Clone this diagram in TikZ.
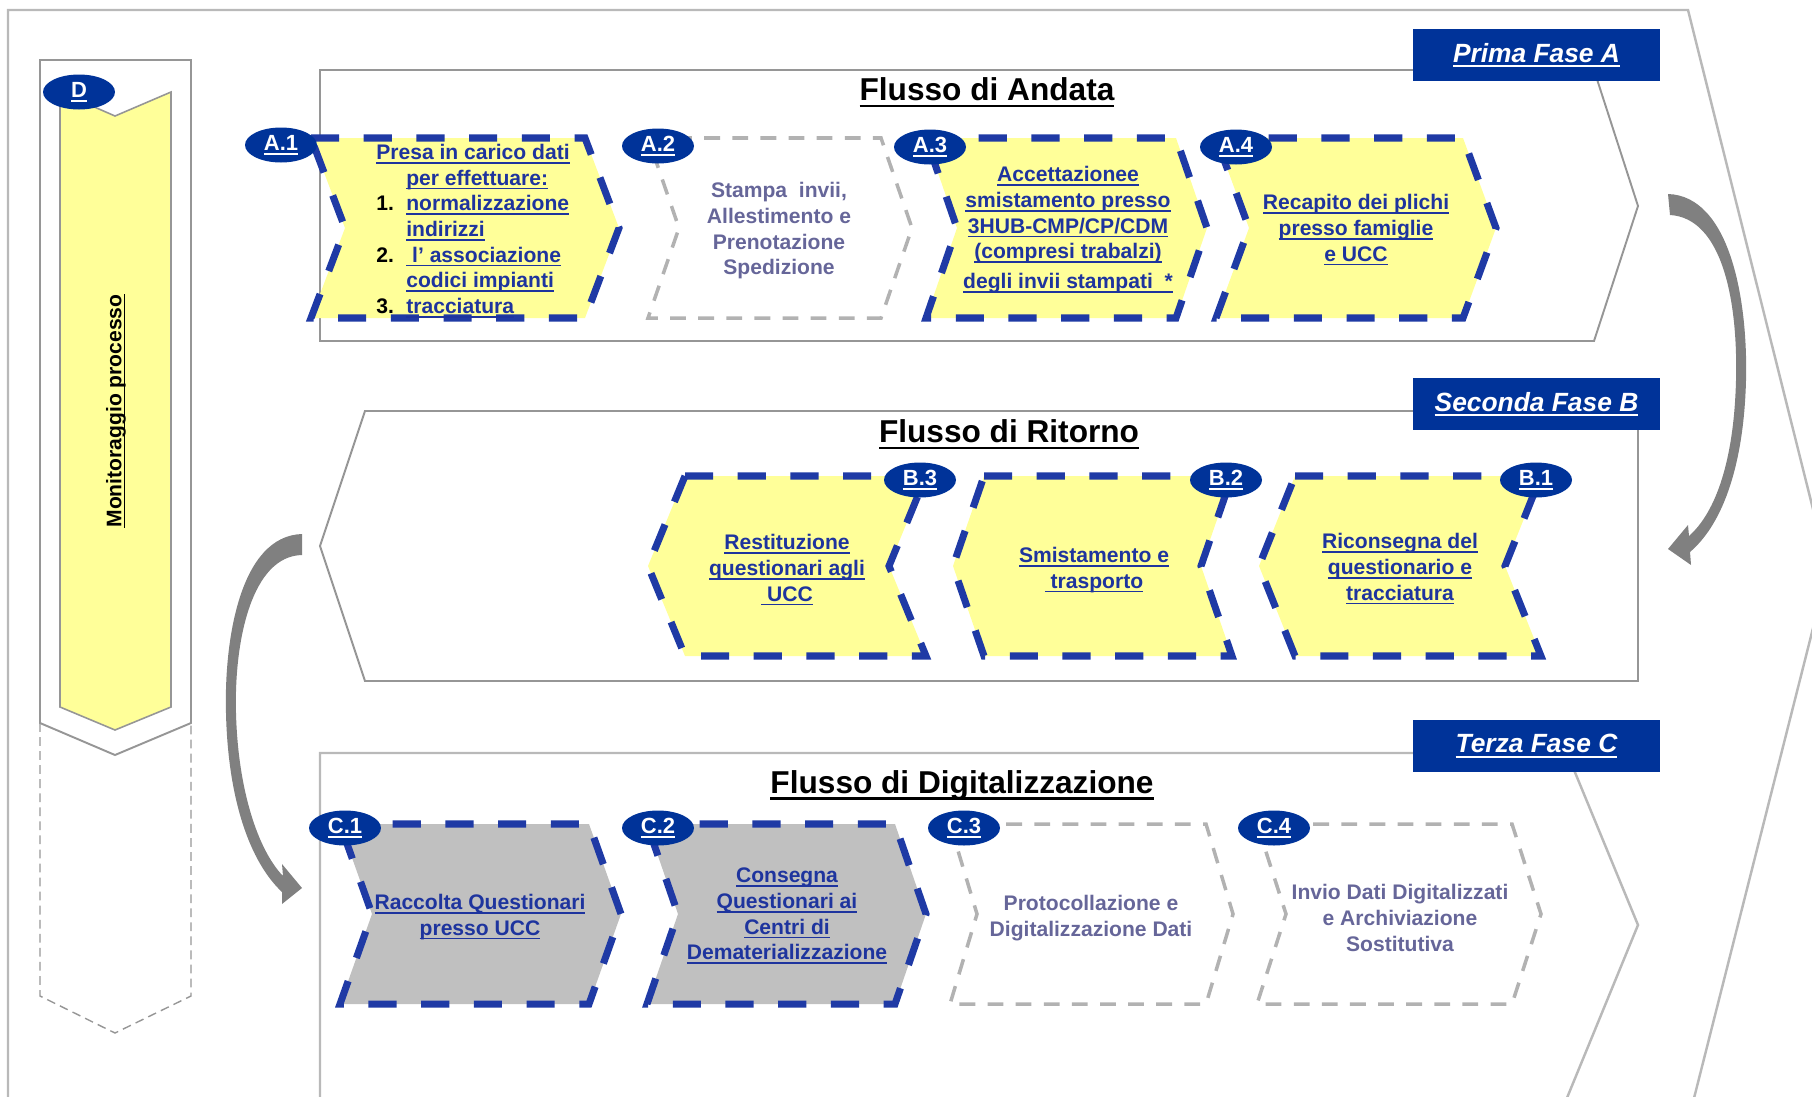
\documentclass[tikz,border=0pt]{standalone}
\usepackage{fontspec}
\setmainfont{Liberation Sans}
\usetikzlibrary{shapes.geometric}
\definecolor{phaseblue}{RGB}{0,51,153}
\definecolor{dashblue}{RGB}{31,58,165}
\definecolor{linkblue}{RGB}{30,52,158}
\definecolor{paleyellow}{RGB}{255,255,153}
\definecolor{boxgray}{RGB}{192,192,192}
\definecolor{dashgray}{RGB}{178,178,178}
\definecolor{mutedtext}{RGB}{102,102,153}
\definecolor{framegray}{RGB}{150,150,150}
\definecolor{lightframe}{RGB}{185,185,185}
\definecolor{arrowgray}{RGB}{128,128,128}
\newsavebox{\undlbox}
\newcommand{\undl}[1]{\sbox{\undlbox}{#1}\rlap{\rule[-0.19em]{\wd\undlbox}{0.075em}}\usebox{\undlbox}}
\newcommand{\chevright}[5]{\draw[#1] (#2,#4) -- (#3,#4) -- (#3+#5,#4+90) -- (#3,#4+180) -- (#2,#4+180) -- (#2+#5,#4+90) -- cycle;}
\newcommand{\chevleft}[5]{\draw[#1] (#2,#4) -- (#3,#4) -- (#3-#5,#4+90) -- (#3,#4+180) -- (#2,#4+180) -- (#2-#5,#4+90) -- cycle;}
\begin{document}
\begin{tikzpicture}[x=0.02cm,y=-0.02cm,
  frame/.style={draw=framegray,line width=1.1pt},
  outline/.style={draw=lightframe,line width=1.4pt},
  stepyellow/.style={fill=paleyellow,draw=dashblue,line width=4pt,dash pattern=on 16pt off 14pt},
  stepgray/.style={fill=boxgray,draw=dashblue,line width=4pt,dash pattern=on 16pt off 14pt},
  stepopen/.style={draw=dashgray,line width=2pt,dash pattern=on 9pt off 7pt},
  tag/.style={ellipse,fill=phaseblue,minimum width=1.44cm,minimum height=0.7cm,inner sep=0pt,text=white,font=\fontsize{12.5}{14}\selectfont\bfseries},
  fase/.style={fill=phaseblue,minimum width=4.94cm,minimum height=1.04cm,inner sep=0pt,text=white,font=\fontsize{15}{18}\selectfont\bfseries\itshape},
  title/.style={inner sep=0pt,yshift=-0.05cm,font=\fontsize{18}{22}\selectfont\bfseries},
  linktext/.style={inner sep=0pt,yshift=-0.04cm,align=center,text=linkblue,font=\fontsize{12}{14.6}\selectfont\bfseries},
  mutetext/.style={inner sep=0pt,yshift=-0.04cm,align=center,text=mutedtext,font=\fontsize{12}{14.6}\selectfont\bfseries}]
\useasboundingbox (0,0) rectangle (1812,1096);
\clip (0,0) rectangle (1812,1096);

\draw[outline] (8,1110) -- (8,10) -- (1688,10) -- (1828,569) -- (1691,1110);
\draw[frame] (320,70) -- (1594,70) -- (1638,206) -- (1594,341) -- (320,341) -- cycle;
\draw[frame] (365,411) -- (1638,411) -- (1638,681) -- (365,681) -- (320,546) -- cycle;
\draw[outline] (320,1110) -- (320,753) -- (1567,753) -- (1638,925) -- (1562,1110);

\draw[frame] (40,723) -- (40,60) -- (191,60) -- (191,723) -- (115,755) -- cycle;
\draw[draw=framegray,line width=0.8pt,dash pattern=on 5pt off 3pt] (40,723) -- (40,996) -- (115,1033) -- (191,996) -- (191,723);
\draw[fill=paleyellow,draw=framegray,line width=0.9pt] (60,92) -- (115,116) -- (171,92) -- (171,707) -- (115,730) -- (60,707) -- cycle;

\fill[arrowgray] (1668,194) .. controls (1730,196) and (1748,300) .. (1746,380) .. controls (1744,460) and (1725,522) .. (1690,552) -- (1691,565) -- (1668,549) -- (1688,525) -- (1689,536) .. controls (1716,512) and (1734,460) .. (1736,380) .. controls (1738,300) and (1722,218) .. (1670,215) -- cycle;
\fill[arrowgray] (302,534) .. controls (240,536) and (224,640) .. (226,713) .. controls (228,800) and (250,862) .. (282,892) -- (282,904) -- (302,888) -- (282,864) -- (283,876) .. controls (258,850) and (238,790) .. (236,713) .. controls (234,640) and (252,556) .. (302,555) -- cycle;

\chevright{stepyellow}{311}{585}{138}{34}
\chevright{stepopen}{648}{881}{138}{31}
\chevright{stepyellow}{926}{1176}{138}{31}
\chevright{stepyellow}{1216}{1463}{138}{33}
\chevleft{stepyellow}{685}{926}{476}{37}
\chevleft{stepyellow}{984}{1232}{476}{31}
\chevleft{stepyellow}{1295}{1541}{476}{36}
\chevright{stepgray}{340}{589}{824}{32}
\chevright{stepgray}{647}{895}{824}{31}
\chevright{stepopen}{950}{1206}{824}{27}
\chevright{stepopen}{1257}{1512}{824}{29}

\node[fase] (faseA) at (1536.5,55) {\undl{Prima Fase A}};
\node[fase] (faseB) at (1536.5,404) {\undl{Seconda Fase B}};
\node[fase] (faseC) at (1536.5,746) {\undl{Terza Fase C}};
\node[title] (flussoA) at (987,90) {\undl{Flusso di Andata}};
\node[title] (flussoB) at (1009,432) {\undl{Flusso di Ritorno}};
\node[title] (flussoC) at (962,783) {\undl{Flusso di Digitalizzazione}};

\node[linktext,align=left,anchor=west] (a1text) at (376,229) {\undl{Presa in carico dati}\\
  \hspace*{0.6cm}\undl{per effettuare:}\\
  \makebox[0.6cm][l]{\color{black}1.}\undl{normalizzazione}\\
  \hspace*{0.6cm}\undl{indirizzi}\\
  \makebox[0.6cm][l]{\color{black}2.}\undl{\ l’ associazione}\\
  \hspace*{0.6cm}\undl{codici impianti}\\
  \makebox[0.6cm][l]{\color{black}3.}\undl{tracciatura}};
\node[mutetext] (a2text) at (779,229) {Stampa\ \ invii,\\Allestimento e\\Prenotazione\\Spedizione};
\node[linktext] (a3text) at (1068,228) {\undl{Accettazionee}\\\undl{smistamento presso}\\\undl{3HUB-CMP/CP/CDM}\\\undl{(compresi trabalzi)}\\[2.4pt]\undl{degli invii stampati\ \ *}};
\node[linktext] (a4text) at (1356,228) {\undl{Recapito dei plichi}\\\undl{presso famiglie}\\\undl{e UCC}};
\node[linktext] (b3text) at (787,568) {\undl{Restituzione}\\\undl{questionari agli}\\\undl{\ UCC}};
\node[linktext] (b2text) at (1094,568) {\undl{Smistamento e}\\\undl{\ trasporto}};
\node[linktext] (b1text) at (1400,567) {\undl{Riconsegna del}\\\undl{questionario e}\\\undl{tracciatura}};
\node[linktext] (c1text) at (480,915) {\undl{Raccolta Questionari}\\\undl{presso UCC}};
\node[linktext] (c2text) at (787,914) {\undl{Consegna}\\\undl{Questionari ai}\\\undl{Centri di}\\\undl{Dematerializzazione}};
\node[mutetext] (c3text) at (1091,916) {Protocollazione e\\Digitalizzazione Dati};
\node[mutetext] (c4text) at (1400,916) {Invio Dati Digitalizzati\\e Archiviazione\\Sostitutiva};

\node[tag] (tagD) at (79,92) {\undl{D}};
\node[tag] (tagA1) at (281,145) {\undl{A.1}};
\node[tag] (tagA2) at (658,146) {\undl{A.2}};
\node[tag] (tagA3) at (930,147) {\undl{A.3}};
\node[tag] (tagA4) at (1236,147) {\undl{A.4}};
\node[tag] (tagB3) at (920,480) {\undl{B.3}};
\node[tag] (tagB2) at (1226,480) {\undl{B.2}};
\node[tag] (tagB1) at (1536,480) {\undl{B.1}};
\node[tag] (tagC1) at (345,828) {\undl{C.1}};
\node[tag] (tagC2) at (658,828) {\undl{C.2}};
\node[tag] (tagC3) at (964,828) {\undl{C.3}};
\node[tag] (tagC4) at (1274,828) {\undl{C.4}};

\node[inner sep=0pt,rotate=90,font=\fontsize{12}{14}\selectfont\bfseries] (monitor) at (116,411) {\undl{Monitoraggio processo}};
\end{tikzpicture}
\end{document}
